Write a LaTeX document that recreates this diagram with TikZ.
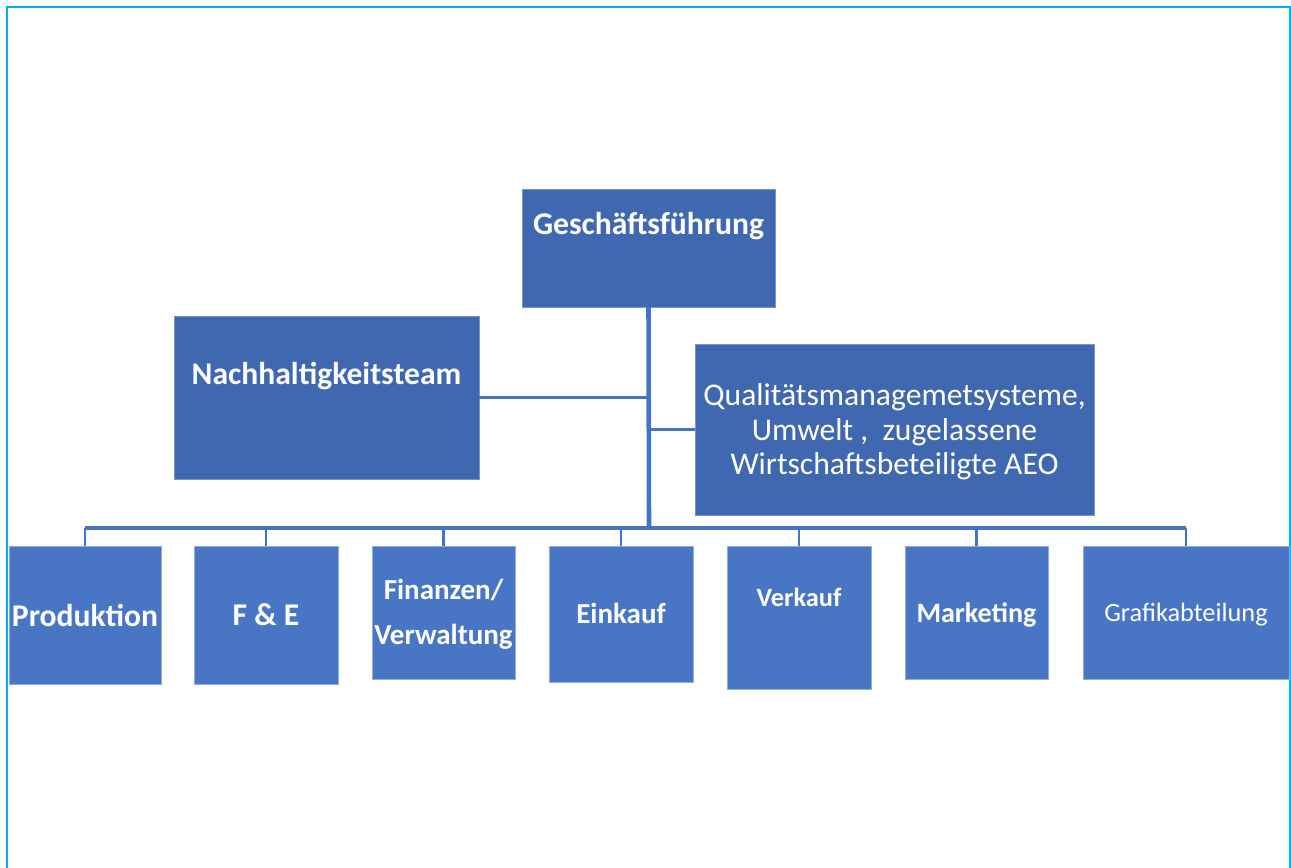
\documentclass[tikz,border=0pt]{standalone}
\usepackage{fontspec}
\setmainfont{Carlito}
\usepackage{tikz}

\definecolor{topblue}{RGB}{63,104,177}
\definecolor{boxblue}{RGB}{72,118,196}
\definecolor{linkblue}{RGB}{68,114,196}
\definecolor{framecyan}{RGB}{0,176,240}
\newcommand\pxu{0.02cm}

\begin{document}
\begin{tikzpicture}[x=0.02cm, y=-0.02cm,
  every node/.style={inner sep=0pt, outer sep=0pt, text=white},
  topbox/.style={fill=topblue, draw=topblue!70!white, line width=0.4pt},
  unitbox/.style={fill=boxblue, draw=boxblue!60!white, line width=0.4pt},
  head/.style={font=\fontsize{18}{20}\selectfont\bfseries},
  link/.style={draw=linkblue, line width=2.1pt}]
\useasboundingbox (0,0) rectangle (1291,868);
\draw[framecyan, line width=1.2pt] (7,7) rectangle (1290,880);

% management
\node[topbox, minimum width=253*\pxu, minimum height=118*\pxu] (gf) at (648.5,248) {};
\node[head] (gf-t) at (648.5,226) {Geschäftsführung};
\node[topbox, minimum width=305*\pxu, minimum height=163*\pxu] (nh) at (326.5,397.5) {};
\node[head] (nh-t) at (326.5,376) {Nachhaltigkeitsteam};
\node[topbox, minimum width=399*\pxu, minimum height=171*\pxu] (qm) at (894.5,429.5) {};
\node[align=center, font=\fontsize{18}{19.6}\selectfont] (qm-t) at (894.5,432)
  {Qualitätsmanagemetsysteme,\\Umwelt ,\ \ zugelassene\\Wirtschaftsbeteiligte AEO};

% departments
\node[unitbox, minimum width=152*\pxu, minimum height=138*\pxu] (prod) at (85,615) {};
\node[head] (prod-t) at (85,615) {Produktion};
\node[unitbox, minimum width=144*\pxu, minimum height=138*\pxu] (fe) at (266,615) {};
\node[head] (fe-t) at (266,615) {F \& E};
\node[unitbox, minimum width=143*\pxu, minimum height=133*\pxu] (fin) at (443.5,612.5) {};
\node[align=center, font=\fontsize{16.5}{25.5}\selectfont\bfseries] (fin-t) at (443.5,614.5) {Finanzen/\\Verwaltung};
\node[unitbox, minimum width=144*\pxu, minimum height=136*\pxu] (ein) at (621,614) {};
\node[font=\fontsize{16.5}{18}\selectfont\bfseries] (ein-t) at (621,613) {Einkauf};
\node[unitbox, minimum width=144*\pxu, minimum height=143*\pxu] (ver) at (799,617.5) {};
\node[font=\fontsize{15}{17}\selectfont\bfseries] (ver-t) at (799,597) {Verkauf};
\node[unitbox, minimum width=143*\pxu, minimum height=133*\pxu] (mark) at (976.5,612.5) {};
\node[font=\fontsize{16}{18}\selectfont\bfseries] (mark-t) at (976.5,615) {Marketing};
\node[unitbox, minimum width=206*\pxu, minimum height=133*\pxu] (graf) at (1186,612.5) {};
\node[font=\fontsize{15}{17}\selectfont] (graf-t) at (1186,615) {Grafikabteilung};

% connectors
\coordinate (bus) at (649,528);
\draw[link, line width=2.6pt] (gf.south) -- (bus);
\draw[link] (nh.east) -- (nh.east -| bus);
\draw[link] (qm.west) -- (qm.west -| bus);
\draw[link] (prod.north |- bus) -- (graf.north |- bus);
\foreach \n in {prod,fe,fin,ein,ver,mark,graf}
  \draw[link, line width=1.5pt] (\n.north) -- (\n.north |- bus);
\end{tikzpicture}
\end{document}
